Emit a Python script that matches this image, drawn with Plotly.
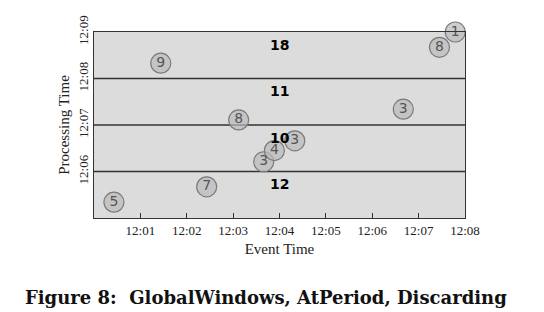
import plotly.graph_objects as go

# minutes after 12:00 (event) and processing time in minutes after 12:00
event_time = [0.43, 2.43, 3.66, 3.89, 4.33, 3.12, 6.67, 1.44, 7.45, 7.79]
proc_time = [5.34, 5.67, 6.21, 6.45, 6.66, 7.11, 7.34, 8.33, 8.67, 9.0]
values = [5, 7, 3, 4, 3, 8, 3, 9, 8, 1]

trigger_times = [6, 7, 8]
pane_mid = [5.73, 6.72, 7.74, 8.73]
pane_sums = [12, 10, 11, 18]

x_ticks = [1, 2, 3, 4, 5, 6, 7, 8]
x_labels = ["12:01", "12:02", "12:03", "12:04", "12:05", "12:06", "12:07", "12:08"]
y_ticks = [6, 7, 8, 9]
y_labels = ["12:06", "12:07", "12:08", "12:09"]

serif = "Liberation Serif"

fig = go.Figure()
fig.add_trace(go.Scatter(
    x=event_time, y=proc_time, mode="markers+text",
    text=[str(v) for v in values],
    textposition="middle center",
    textfont=dict(family="DejaVu Sans", size=14, color="#555555"),
    marker=dict(size=20, color="rgba(185,185,185,0.7)",
                line=dict(color="#7a7a7a", width=1.2)),
    cliponaxis=False, showlegend=False, hoverinfo="skip"))

for t in trigger_times:
    fig.add_shape(type="line", xref="paper", x0=0, x1=1, yref="y", y0=t, y1=t,
                  line=dict(color="#333333", width=1.3), layer="below")

for m, s in zip(pane_mid, pane_sums):
    fig.add_annotation(x=4, y=m, text="<b>%d</b>" % s, showarrow=False,
                       font=dict(family="DejaVu Sans", size=14, color="#000000"))

fig.add_annotation(xref="paper", yref="paper", x=0.5, xanchor="center",
                   y=-0.425, yanchor="middle", xshift=-14,
                   text="<b>Figure 8:  GlobalWindows, AtPeriod, Discarding</b>",
                   showarrow=False,
                   font=dict(family="DejaVu Serif", size=18, color="#111111"))

fig.update_layout(
    width=544, height=312,
    margin=dict(l=94, r=79, t=32, b=94),
    paper_bgcolor="white", plot_bgcolor="#dcdcdc",
    font=dict(family=serif, size=13, color="#222222"),
)
fig.update_xaxes(range=[0, 8], tickvals=x_ticks, ticktext=x_labels,
                 ticks="inside", ticklen=5, tickcolor="#333", showgrid=False,
                 zeroline=False, showline=True, linecolor="#333", linewidth=1.2,
                 mirror=True,
                 title=dict(text="Event Time", standoff=6,
                            font=dict(family=serif, size=15)),
                 tickfont=dict(family=serif, size=13))
fig.update_yaxes(range=[5, 9], tickvals=y_ticks, ticktext=y_labels,
                 tickangle=-90, ticks="", showgrid=False, zeroline=False,
                 showline=True, linecolor="#333", linewidth=1.2, mirror=True,
                 title=dict(text="Processing Time", standoff=2,
                            font=dict(family=serif, size=15)),
                 tickfont=dict(family=serif, size=13))

fig.write_html("out.html")
